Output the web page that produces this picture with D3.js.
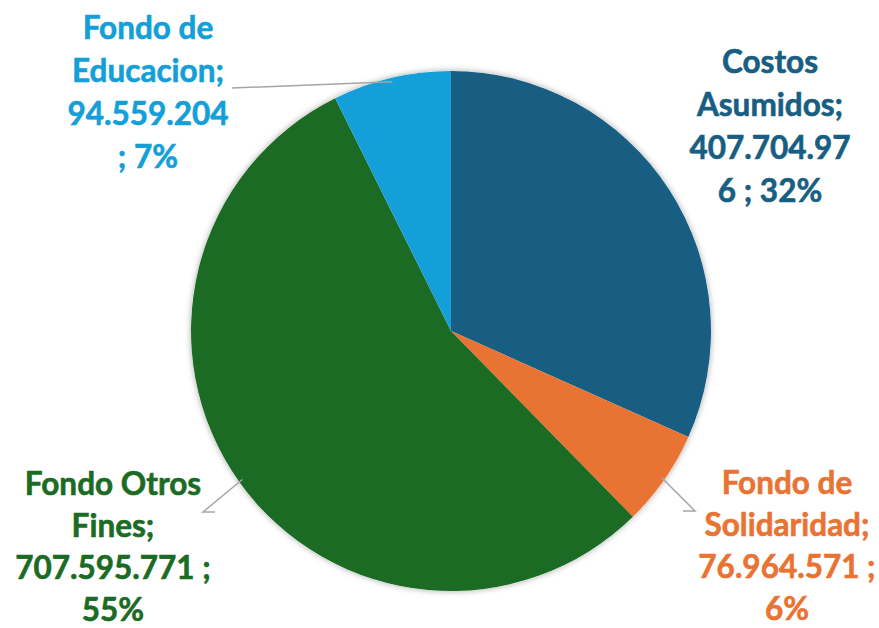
<!DOCTYPE html>
<html>
<head>
<meta charset="utf-8">
<script src="https://cdn.jsdelivr.net/npm/d3@7"></script>
<style>
  body { margin: 0; background: #fff; }
  svg text { font-family: Lato, "Open Sans", sans-serif; font-weight: bold; }
</style>
</head>
<body>
<svg id="pie-chart"></svg>
<script>
var categories = ["Costos Asumidos", "Fondo de Solidaridad", "Fondo Otros Fines", "Fondo de Educacion"];
var values = [407704976, 76964571, 707595771, 94559204];
var percents = ["32%", "6%", "55%", "7%"];
// the data labels, wrapped the way the original shows them
var labelLines = [
  ["Costos", "Asumidos;", "407.704.97", "6 ; 32%"],
  ["Fondo de", "Solidaridad;", "76.964.571 ;", "6%"],
  ["Fondo Otros", "Fines;", "707.595.771 ;", "55%"],
  ["Fondo de", "Educacion;", "94.559.204", "; 7%"]
];
var colors = ["#175E82", "#E97333", "#1C6B24", "#149FD8"];

function DrawPie()
{
  var width = 879, height = 628;
  var cx = 451, cy = 331, radius = 260;

  // label block placement (center x, first baseline y, line gap) and leader line points
  var labelPos = [
    {x: 770, y: 73, gap: 43, line: null},
    {x: 787, y: 494, gap: 42, line: [[0.985, 0], [695, 511], [683, 511]]},
    {x: 113, y: 495, gap: 42, line: [[0.985, 0], [203, 512], [215, 512]]},
    {x: 148, y: 39, gap: 43, line: [[0.985, 0], [232, 88]]}
  ];

  var svg = d3.select("#pie-chart").attr("width", width).attr("height", height);

  var defs = svg.append("defs");
  var filter = defs.append("filter").attr("id", "shadow")
                   .attr("x", "-10%").attr("y", "-10%").attr("width", "120%").attr("height", "120%");
  filter.append("feDropShadow").attr("dx", 0).attr("dy", 0).attr("stdDeviation", 3)
        .attr("flood-color", "#000").attr("flood-opacity", 0.35);

  var pie = d3.pie().sort(null).value(function(d) { return d; });
  var arcs = pie(values);
  var arc = d3.arc().innerRadius(0).outerRadius(radius);

  var g = svg.append("g").attr("transform", "translate(" + cx + "," + cy + ")");
  g.append("circle").attr("r", radius).attr("fill", "#fff").attr("filter", "url(#shadow)");
  g.selectAll("path.slice")
   .data(arcs)
   .enter().append("path")
   .attr("class", "slice")
   .attr("d", arc)
   .attr("fill", function(d, i) { return colors[i]; });

  // leader lines from the slice edge to the label
  arcs.forEach(function(d, i) {
    var lp = labelPos[i];
    if (!lp.line) return;
    var mid = (d.startAngle + d.endAngle) / 2;
    var r = radius * lp.line[0][0];
    var pts = [[cx + r * Math.sin(mid), cy - r * Math.cos(mid)]].concat(lp.line.slice(1)).reverse();
    svg.append("path")
       .attr("d", d3.line()(pts))
       .attr("fill", "none")
       .attr("stroke", "#A6A6A6")
       .attr("stroke-width", 1.5);
  });

  categories.forEach(function(c, i) {
    var lp = labelPos[i];
    var t = svg.append("text")
               .attr("text-anchor", "middle")
               .attr("font-size", 31.5)
               .attr("fill", colors[i])
               .attr("stroke", colors[i])
               .attr("stroke-width", 0.6);
    labelLines[i].forEach(function(s, j) {
      t.append("tspan").attr("x", lp.x).attr("y", lp.y + j * lp.gap).text(s);
    });
  });
}

DrawPie();
</script>
</body>
</html>
